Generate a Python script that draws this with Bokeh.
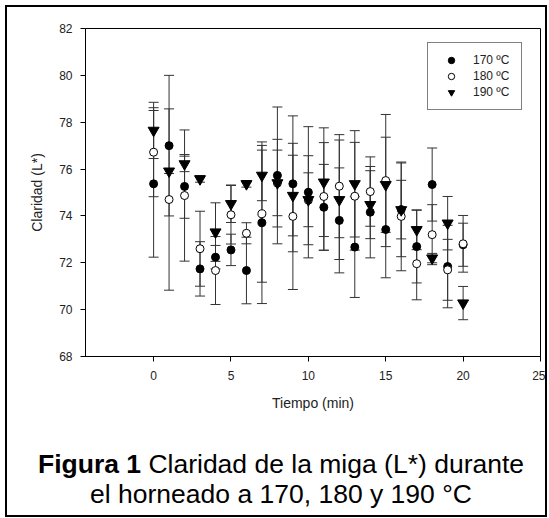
from bokeh.plotting import figure
from bokeh.models import (Whisker, TeeHead, ColumnDataSource, Legend, LegendItem,
                          Range1d, FixedTicker, Div)
from bokeh.layouts import column
from bokeh.embed import file_html
from bokeh.resources import INLINE

# ---- data ----
tiempo = list(range(21))
l170 = [75.37, 77.00, 75.26, 71.74, 72.24, 72.55, 71.67, 73.71, 75.73, 75.37, 75.01,
        74.37, 73.81, 72.67, 74.16, 73.42, 74.27, 72.69, 75.34, 71.84, 72.77]
sd170 = [3.13, 3.00, 1.36, 1.16, 0.50, 0.67, 1.42, 3.45, 2.92, 2.90, 2.80,
         1.83, 2.24, 2.15, 1.95, 2.06, 1.25, 1.55, 1.56, 1.76, 0.92]
l180 = [76.72, 74.70, 74.87, 72.60, 71.67, 74.05, 73.26, 74.09, 75.40, 73.98, 74.67,
        74.83, 75.27, 74.84, 75.04, 75.51, 73.98, 71.96, 73.20, 71.70, 72.81]
sd180 = [1.90, 3.87, 2.80, 1.60, 1.45, 1.25, 0.45, 2.92, 1.87, 3.12, 1.90,
         2.30, 2.20, 2.30, 1.48, 2.82, 2.32, 1.54, 1.28, 1.30, 1.21]
l190 = [77.65, 75.91, 76.22, 75.58, 73.31, 74.52, 75.37, 75.73, 75.41, 74.87, 74.69,
        75.44, 74.69, 75.37, 74.48, 75.33, 74.26, 73.41, 72.20, 73.69, 70.28]
sd190 = [1.20, 0.10, 0.33, 0.14, 1.25, 0.80, 0.14, 1.08, 1.40, 1.72, 1.15,
         2.32, 2.55, 2.27, 1.45, 2.03, 2.00, 0.85, 0.20, 1.14, 0.71]
labels = ["170 ºC", "180 ºC", "190 ºC"]
x_ticks = [0, 5, 10, 15, 20, 25]
y_ticks = [68, 70, 72, 74, 76, 78, 80, 82]
caption_bold = "Figura 1"
caption_rest = "Claridad de la miga (L*) durante"
caption_line2 = "el horneado a 170, 180 y 190 °C"

FONT = "Liberation Sans"
TXT = "#222222"

p = figure(width=538, height=437, output_backend="svg", toolbar_location=None,
           title=None, x_range=Range1d(-4.4, 25), y_range=Range1d(68, 82),
           min_border_left=78, min_border_right=5, min_border_top=21,
           min_border_bottom=88)
p.grid.visible = False
p.outline_line_color = "black"
p.outline_line_width = 1

for ax in (p.xaxis[0], p.yaxis[0]):
    ax.axis_line_color = "black"
    ax.major_tick_line_color = "black"
    ax.major_tick_in = 0
    ax.major_tick_out = 5
    ax.minor_tick_line_color = None
    ax.major_label_text_font = FONT
    ax.major_label_text_font_size = "12px"
    ax.major_label_text_color = TXT
    ax.axis_label_text_font = FONT
    ax.axis_label_text_font_size = "14px"
    ax.axis_label_text_font_style = "normal"
    ax.axis_label_text_color = TXT
p.xaxis.ticker = FixedTicker(ticks=x_ticks)
p.yaxis.ticker = FixedTicker(ticks=y_ticks)
p.xaxis.axis_label = "Tiempo (min)"
p.yaxis.axis_label = "Claridad (L*)"
p.xaxis.major_label_standoff = 9
p.xaxis.axis_label_standoff = 12
p.yaxis.major_label_standoff = 8
p.yaxis.axis_label_standoff = 11

series = [(l170, sd170, "circle", 8, "black"),
          (l180, sd180, "circle", 8, "white"),
          (l190, sd190, "inverted_triangle", 11, "black")]
sources = []
for vals, sds, mk, sz, fill in series:
    src = ColumnDataSource(dict(x=tiempo, y=vals,
                                lo=[v - s for v, s in zip(vals, sds)],
                                hi=[v + s for v, s in zip(vals, sds)]))
    w = Whisker(base="x", upper="hi", lower="lo", source=src, dimension="height",
                line_color="#333333", line_width=1,
                upper_head=TeeHead(size=10, line_color="#333333", line_width=1),
                lower_head=TeeHead(size=10, line_color="#333333", line_width=1))
    p.add_layout(w)
    sources.append((src, mk, sz, fill))

rs = []
for src, mk, sz, fill in sources:
    r = p.scatter("x", "y", source=src, marker=mk, size=sz, fill_color=fill,
                  line_color="black", line_width=1)
    rs.append(r)

legend = Legend(items=[LegendItem(label=lab, renderers=[r]) for lab, r in zip(labels, rs)],
                location=(342, 246), orientation="vertical",
                border_line_color="black", border_line_width=1,
                background_fill_color="white", background_fill_alpha=1,
                padding=9, spacing=0, margin=0,
                glyph_height=16, glyph_width=28, label_height=16, label_width=39,
                label_standoff=8, label_text_font=FONT, label_text_font_size="12px",
                label_text_color=TXT)
p.add_layout(legend)

cap = Div(text=f"<b>{caption_bold}</b> {caption_rest}<br>{caption_line2}",
          width=538, height=71, sizing_mode="fixed",
          styles={"font-family": FONT, "font-size": "26.5px", "line-height": "30px",
                  "text-align": "center", "color": "black",
                  "overflow": "hidden", "height": "71px", "max-height": "71px"})

layout = column(p, cap, spacing=0, sizing_mode="fixed", width=538, height=508,
                styles={"border": "2px solid black", "margin-left": "5px",
                        "margin-top": "5px", "box-sizing": "content-box",
                        "height": "508px", "max-height": "508px",
                        "overflow": "hidden"})

open("out.html", "w").write(file_html(layout, INLINE))
